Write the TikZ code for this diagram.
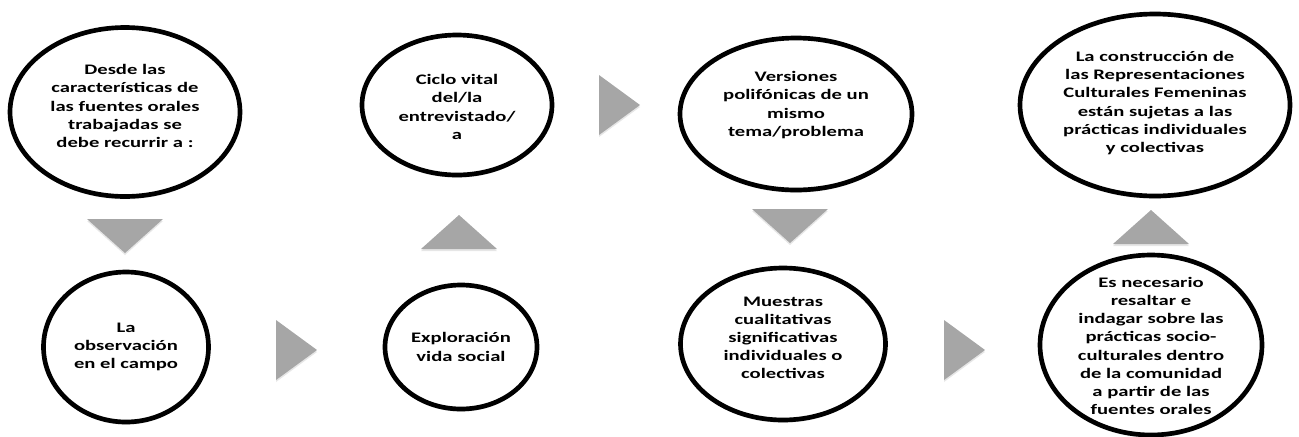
\documentclass[tikz,border=0pt]{standalone}
\usepackage{fontspec}
\newfontfamily\bubblefont{Carlito}[FakeStretch=1.42]
\usetikzlibrary{shapes.geometric,shadows}
\definecolor{arrgray}{RGB}{166,166,166}
\tikzset{
  bubble/.style={ellipse, draw=black, line width=3.5pt, fill=white, inner sep=0pt,
    drop shadow={opacity=0.25, shadow xshift=0pt, shadow yshift=-2pt}},
  bubbletext/.style={align=center, inner sep=0pt,
    font=\bubblefont\bfseries\fontsize{10.9pt}{13.6pt}\selectfont},
  tri/.style={fill=arrgray, drop shadow={opacity=0.2, shadow xshift=0pt, shadow yshift=-1.5pt}}
}

\begin{document}
\begin{tikzpicture}[x=0.75pt,y=-0.75pt]
                \useasboundingbox (0,0) rectangle (1299,436);

                \node[bubble, minimum width=172.5pt, minimum height=126.75pt] (desde) at (125,112) {};
                \node[bubble, minimum width=123.75pt, minimum height=112.5pt] (obs) at (126,347) {};
                \node[bubble, minimum width=114pt, minimum height=93pt] (expl) at (461,347) {};
                \node[bubble, minimum width=142.5pt, minimum height=105pt] (ciclo) at (457,105) {};
                \node[bubble, minimum width=174pt, minimum height=114pt] (vers) at (796,114) {};
                \node[bubble, minimum width=153.75pt, minimum height=114pt] (muest) at (783,344) {};
                \node[bubble, minimum width=166.5pt, minimum height=135pt] (nec) at (1151,345) {};
                \node[bubble, minimum width=202.5pt, minimum height=136.5pt] (constr) at (1155,105) {};

                \node[bubbletext] (desdetxt) at (125,106) {Desde las\\caracter\'isticas de\\las fuentes orales\\trabajadas se\\debe recurrir a :};
                \node[bubbletext] (obstxt) at (126,347) {La\\observaci\'on\\en el campo};
                \node[bubbletext] (expltxt) at (461,347) {Exploraci\'on\\vida social};
                \node[bubbletext] (ciclotxt) at (457,107) {Ciclo vital\\del/la\\entrevistado/\\a};
                \node[bubbletext] (verstxt) at (796,105) {Versiones\\polif\'onicas de un\\mismo\\tema/problema};
                \node[bubbletext] (muesttxt) at (783,338) {Muestras\\cualitativas\\significativas\\individuales o\\colectivas};
                \node[bubbletext] (nectxt) at (1151,346) {Es necesario\\resaltar e\\indagar sobre las\\pr\'acticas socio-\\culturales dentro\\de la comunidad\\a partir de las\\fuentes orales};
                \node[bubbletext] (constrtxt) at (1155,103) {La construcci\'on de\\las Representaciones\\Culturales Femeninas\\est\'an sujetas a las\\pr\'acticas individuales\\y colectivas};

                \coordinate (t1) at (125,236);
                \coordinate (t2) at (296,350);
                \coordinate (t3) at (459,232);
                \coordinate (t4) at (619,105);
                \coordinate (t5) at (790,226);
                \coordinate (t6) at (964,350);
                \coordinate (t7) at (1151,227);

                \fill[tri] (t1) ++(-38,-17) -- ++(76,0) -- ++(-38,34) -- cycle;
                \fill[tri] (t2) ++(-20,-30) -- ++(0,60) -- ++(41,-30) -- cycle;
                \fill[tri] (t3) ++(-38,17) -- ++(76,0) -- ++(-38,-34) -- cycle;
                \fill[tri] (t4) ++(-20,-30) -- ++(0,60) -- ++(41,-30) -- cycle;
                \fill[tri] (t5) ++(-38,-17) -- ++(76,0) -- ++(-38,34) -- cycle;
                \fill[tri] (t6) ++(-20,-30) -- ++(0,60) -- ++(41,-30) -- cycle;
                \fill[tri] (t7) ++(-38,17) -- ++(76,0) -- ++(-38,-34) -- cycle;
\end{tikzpicture}
\end{document}
